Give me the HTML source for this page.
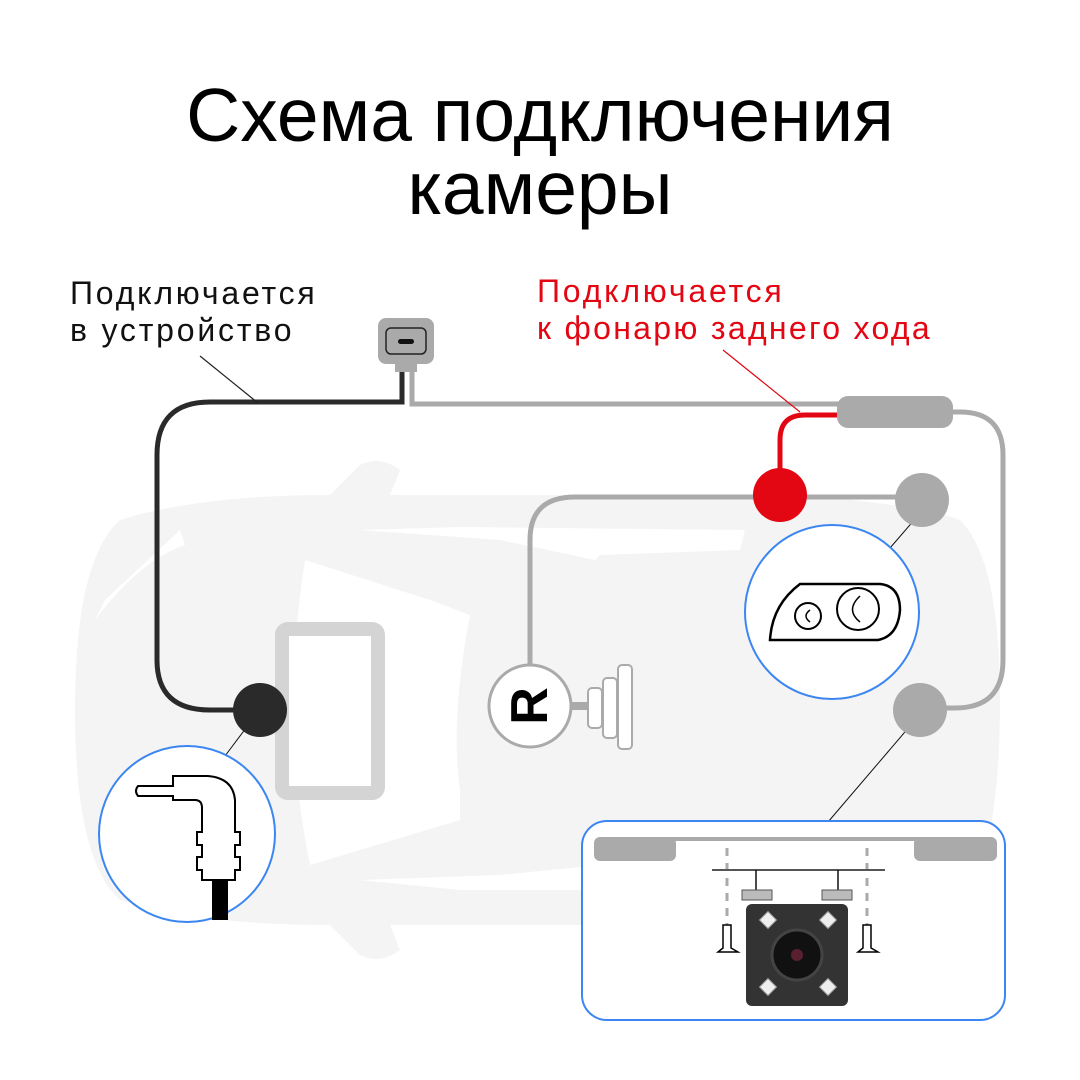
<!DOCTYPE html>
<html><head><meta charset="utf-8"><style>
html,body{margin:0;padding:0;background:#fff}
svg{display:block}
text{font-family:"Liberation Sans","DejaVu Sans",sans-serif}
</style></head><body>
<svg width="1080" height="1080" viewBox="0 0 1080 1080" xmlns="http://www.w3.org/2000/svg">
<rect width="1080" height="1080" fill="#fff"/>
<text x="540" y="141" font-size="75" text-anchor="middle" fill="#000">Схема подключения</text>
<text x="540" y="214" font-size="75" text-anchor="middle" fill="#000">камеры</text>
<text x="70" y="304" font-size="32" fill="#111" letter-spacing="2.8">Подключается</text>
<text x="70" y="341" font-size="32" fill="#111" letter-spacing="2.8">в устройство</text>
<text x="537" y="302" font-size="32" fill="#e30613" letter-spacing="2.8">Подключается</text>
<text x="537" y="339" font-size="32" fill="#e30613" letter-spacing="2.3">к фонарю заднего хода</text>

<!-- car silhouette -->
<g fill="#f4f4f4">
<path d="M120 520 Q200 495 330 495 L360 465 Q380 455 400 470 L390 495 L800 495 Q920 505 960 520 Q1000 560 1000 700 Q1000 860 960 900 Q900 925 800 925 L390 925 L400 950 Q380 965 360 955 L330 925 Q200 925 120 900 Q75 860 75 710 Q75 560 120 520Z"/>
</g>
<g fill="#fff">
<path d="M180 530 L105 600 L95 620 Q140 560 185 545Z"/>
<path d="M360 530 L500 540 L595 560 L600 555 L740 550 L745 530 L460 527Z"/>
<path d="M305 560 L430 600 L470 615 Q450 720 460 790 L460 820 L310 865 Q280 720 305 560Z"/>
<path d="M360 880 L500 875 L600 865 L740 870 L745 890 L460 890Z"/>
</g>

<!-- monitor -->
<rect x="282" y="629" width="96" height="164" rx="6" fill="#fff" stroke="#d4d4d4" stroke-width="14"/>
<text x="392" y="710" font-size="11" fill="#fff" font-weight="bold" transform="rotate(90 392 710)" text-anchor="middle">iBOX</text>

<!-- wires -->
<path d="M402 365 L402 402 L210 402 Q157 402 157 455 L157 660 Q157 710 210 710 L250 710" fill="none" stroke="#2a2a2a" stroke-width="5"/>
<path d="M412 365 L412 404 L845 404" fill="none" stroke="#aaa" stroke-width="5"/>
<path d="M945 412 L960 412 Q1003 412 1003 455 L1003 660 Q1003 708 955 708 L925 708" fill="none" stroke="#aaa" stroke-width="5"/>
<path d="M840 415 L805 415 Q780 415 780 440 L780 490" fill="none" stroke="#e30613" stroke-width="5"/>
<path d="M530 670 L530 540 Q530 497 575 497 L920 497" fill="none" stroke="#aaa" stroke-width="5"/>
<line x1="572" y1="706" x2="592" y2="706" stroke="#aaa" stroke-width="8"/>

<!-- connector -->
<rect x="378" y="318" width="56" height="46" rx="8" fill="#aaa"/>
<rect x="395" y="360" width="22" height="12" fill="#aaa"/>
<rect x="386" y="328" width="40" height="26" rx="5" fill="#aaa" stroke="#222" stroke-width="1.5"/>
<rect x="398" y="339" width="16" height="5" rx="2.5" fill="#111"/>
<rect x="837" y="396" width="116" height="32" rx="11" fill="#aaa"/>

<!-- leader lines -->
<line x1="200" y1="356" x2="258" y2="403" stroke="#222" stroke-width="1.2"/>
<line x1="723" y1="350" x2="800" y2="412" stroke="#e30613" stroke-width="1.2"/>
<line x1="258" y1="712" x2="225" y2="756" stroke="#111" stroke-width="1"/>
<line x1="928" y1="504" x2="890" y2="548" stroke="#111" stroke-width="1"/>
<line x1="922" y1="712" x2="828" y2="822" stroke="#111" stroke-width="1"/>

<!-- dots -->
<circle cx="260" cy="710" r="27" fill="#2a2a2a"/>
<circle cx="780" cy="495" r="27" fill="#e30613"/>
<circle cx="922" cy="500" r="27" fill="#aaa"/>
<circle cx="920" cy="710" r="27" fill="#aaa"/>

<!-- R -->
<circle cx="530" cy="706" r="41" fill="#fff" stroke="#aaa" stroke-width="3"/>
<text x="530" y="706" font-size="52" font-weight="bold" fill="#000" text-anchor="middle" dominant-baseline="central" transform="rotate(-90 530 706)">R</text>
<rect x="588" y="688" width="14" height="40" rx="4" fill="#fff" stroke="#aaa" stroke-width="2"/>
<rect x="603" y="678" width="14" height="60" rx="4" fill="#fff" stroke="#aaa" stroke-width="2"/>
<rect x="618" y="665" width="14" height="84" rx="4" fill="#fff" stroke="#aaa" stroke-width="2"/>

<!-- headlight circle -->
<circle cx="832" cy="612" r="87" fill="#fff" stroke="#3b86f2" stroke-width="2"/>
<path d="M800 584 L880 584 Q900 586 900 610 Q898 636 878 640 L770 640 Q772 605 800 584Z" fill="#fff" stroke="#000" stroke-width="2.5"/>
<circle cx="808" cy="616" r="13" fill="none" stroke="#000" stroke-width="2"/>
<circle cx="858" cy="609" r="21" fill="none" stroke="#000" stroke-width="2"/>
<path d="M810 610 Q802 616 810 622" fill="none" stroke="#000" stroke-width="1.5"/>
<path d="M860 596 Q845 610 860 622" fill="none" stroke="#000" stroke-width="1.5"/>

<!-- plug circle -->
<circle cx="187" cy="834" r="88" fill="#fff" stroke="#3b86f2" stroke-width="2"/>
<path d="M138 786 L173 786 L173 776 L208 776 Q233 778 235 800 L235 832 L240 832 L240 845 L235 845 L235 857 L240 857 L240 870 L235 870 L235 880 L202 880 L202 870 L197 870 L197 857 L202 857 L202 845 L197 845 L197 832 L202 832 L202 808 Q202 800 195 800 L173 800 L173 796 L138 796 Q134 791 138 786Z" fill="#fff" stroke="#000" stroke-width="2"/>
<rect x="212" y="880" width="16" height="40" fill="#000"/>

<!-- camera box -->
<rect x="582" y="821" width="423" height="199" rx="25" fill="#fff" stroke="#3b86f2" stroke-width="2"/>
<rect x="594" y="837" width="82" height="24" rx="6" fill="#aaa"/>
<rect x="914" y="837" width="83" height="24" rx="6" fill="#aaa"/>
<rect x="670" y="837" width="250" height="4" fill="#aaa"/>
<line x1="727" y1="848" x2="727" y2="925" stroke="#aaa" stroke-width="3" stroke-dasharray="8 7"/>
<line x1="867" y1="848" x2="867" y2="925" stroke="#aaa" stroke-width="3" stroke-dasharray="8 7"/>
<line x1="712" y1="870" x2="885" y2="870" stroke="#555" stroke-width="2"/>
<line x1="756" y1="870" x2="756" y2="898" stroke="#111" stroke-width="1.5"/>
<line x1="838" y1="870" x2="838" y2="898" stroke="#111" stroke-width="1.5"/>
<rect x="742" y="890" width="30" height="10" fill="#bbb" stroke="#555"/>
<rect x="822" y="890" width="30" height="10" fill="#bbb" stroke="#555"/>
<rect x="746" y="904" width="102" height="102" rx="6" fill="#333"/>
<circle cx="797" cy="955" r="25" fill="#111" stroke="#444" stroke-width="3"/>
<circle cx="797" cy="955" r="6" fill="#5a2030"/>
<g fill="#eee" stroke="#999">
<rect x="762" y="914" width="12" height="12" transform="rotate(45 768 920)"/>
<rect x="822" y="914" width="12" height="12" transform="rotate(45 828 920)"/>
<rect x="762" y="981" width="12" height="12" transform="rotate(45 768 987)"/>
<rect x="822" y="981" width="12" height="12" transform="rotate(45 828 987)"/>
</g>
<path d="M723 925 L731 925 L731 948 L738 952 L718 952 L723 948Z" fill="#fff" stroke="#000" stroke-width="1.5"/>
<path d="M863 925 L871 925 L871 948 L878 952 L858 952 L863 948Z" fill="#fff" stroke="#000" stroke-width="1.5"/>
</svg>
</body></html>
